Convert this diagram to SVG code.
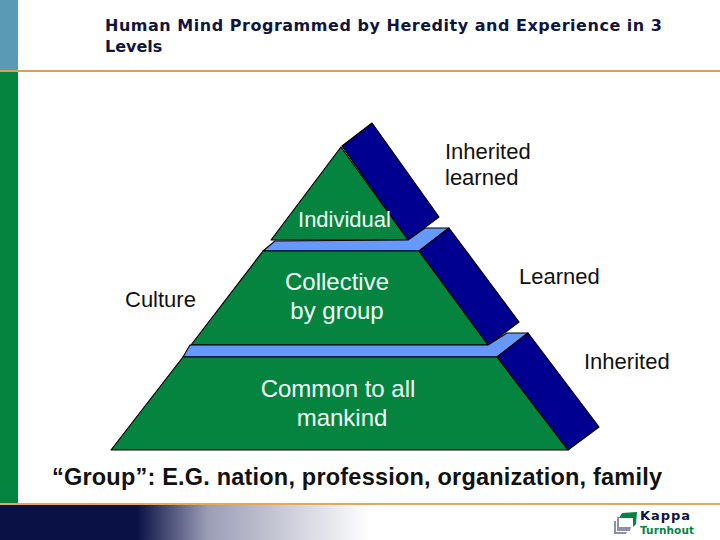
<svg xmlns="http://www.w3.org/2000/svg" width="720" height="540" viewBox="0 0 720 540">
<style>
.g{fill:#058440;stroke:#000;stroke-width:1.2;stroke-linejoin:round}
.b{fill:#000090;stroke:#000;stroke-width:1.2;stroke-linejoin:round}
.l{fill:#6699ff;stroke:#000;stroke-width:1.2;stroke-linejoin:round}
text{font-family:"Liberation Sans",Arial,sans-serif;font-size:22px;fill:#111}
.w{fill:#f2fff6}
.big{font-size:24px}
.t{font-family:"DejaVu Sans",Verdana,sans-serif;font-weight:700;font-size:16px;fill:#10153f}
.lg{font-family:"DejaVu Sans",Verdana,sans-serif;font-weight:700}
</style>
<defs>
<linearGradient id="fade" x1="0" x2="1" y1="0" y2="0">
<stop offset="0" stop-color="#0a1145"/><stop offset="0.37" stop-color="#0a1145"/><stop offset="0.56" stop-color="#9a9db5"/><stop offset="1" stop-color="#ffffff"/>
</linearGradient>
</defs>
<g id="background">
<rect x="0" y="0" width="18" height="71" fill="#5b9ab5"/>
<rect x="0" y="71" width="18" height="433" fill="#058440"/>
<rect x="0" y="70" width="720" height="2" fill="#e59c50"/>
<rect x="0" y="504" width="370" height="36" fill="url(#fade)"/>
<rect x="0" y="503" width="720" height="2" fill="#e0a860"/>
</g>
<g id="title"><text class="t" x="105" y="31" textLength="557">Human Mind Programmed by Heredity and Experience in 3</text><text class="t" x="105" y="52">Levels</text></g>
<g id="level-individual">
<polygon class="b" points="342,146 372,123 439,217 408,240"/>
<polygon class="g" points="341,147 271,240 408,240"/>
<text class="w" x="344.500" y="227">
<tspan text-anchor="middle">Individual</tspan></text>
</g>
<g id="band-upper"><polygon class="l" points="275,241 408,240 425,228 449,228 419,251 263,251"/></g>
<g id="level-collective">
<polygon class="b" points="419,251 449,228 519,322 488,345"/>
<polygon class="g" points="263,251 419,251 488,345 191,345"/>
<text class="w big" x="337" y="290" text-anchor="middle">Collective</text>
<text class="w big" x="337" y="319" text-anchor="middle">by group</text>
</g>
<g id="band-lower"><polygon class="l" points="190,345 488,345 507,333 528,333 497,357 183,357"/></g>
<g id="level-common">
<polygon class="b" points="497,357 528,333 599,427 568,450"/>
<polygon class="g" points="183,357 497,357 568,450 111,450"/>
<text class="w big" x="338" y="397" text-anchor="middle">Common to all</text>
<text class="w big" x="342" y="426" text-anchor="middle">mankind</text>
</g>
<g id="labels">
<text x="445" y="159">Inherited</text>
<text x="445" y="185">learned</text>
<text x="125" y="307">Culture</text>
<text x="519" y="284">Learned</text>
<text x="584" y="369">Inherited</text>
<text x="52" y="485" font-weight="700" style="font-size:23.5px" textLength="610">“Group”: E.G. nation, profession, organization, family</text>
</g>
<g id="logo">
<path d="M619,518 L622,513 L637,512 L636,524 L633,527 L633,518 Z" fill="#058440"/>
<path d="M617,517 L619,517 L619,527 L631,527 L630,531 L617,531 Z" fill="#8f8fa8"/>
<path d="M614,521 L616,521 L616,532 L627,532 L626,534 L614,534 Z" fill="#8f8fa8"/>
<text class="lg" x="640" y="520" style="font-size:13px;fill:#10153f" textLength="50">Kappa</text>
<text class="lg" x="640" y="534" style="font-size:10.500px;fill:#058440" textLength="54">Turnhout</text>
</g>
</svg>
